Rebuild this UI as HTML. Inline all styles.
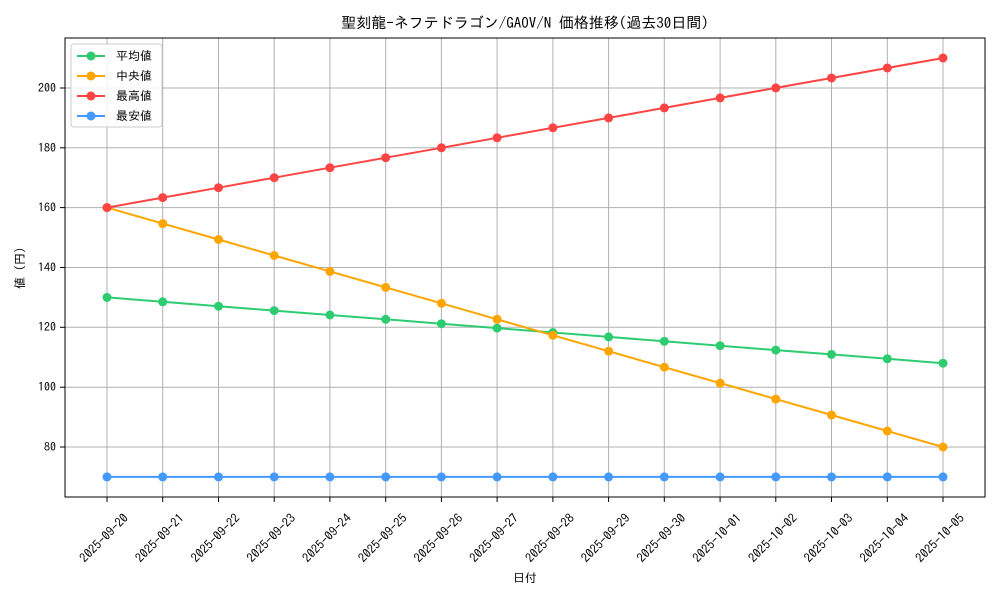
<!DOCTYPE html>
<html><head><meta charset="utf-8"><style>
html,body{margin:0;padding:0;background:#fff}
svg{display:block;font-family:"IPAGothic","Noto Sans CJK JP","Liberation Sans",sans-serif}
</style></head><body>
<svg width="1000" height="600" viewBox="0 0 1000 600" xmlns="http://www.w3.org/2000/svg">
<defs>
<marker id="mg" markerUnits="userSpaceOnUse" markerWidth="10" markerHeight="10" refX="5" refY="5"><circle cx="5" cy="5" r="4.5" fill="#2ecc71"/></marker>
<marker id="mo" markerUnits="userSpaceOnUse" markerWidth="10" markerHeight="10" refX="5" refY="5"><circle cx="5" cy="5" r="4.5" fill="#ffa500"/></marker>
<marker id="mr" markerUnits="userSpaceOnUse" markerWidth="10" markerHeight="10" refX="5" refY="5"><circle cx="5" cy="5" r="4.5" fill="#ff4444"/></marker>
<marker id="mb" markerUnits="userSpaceOnUse" markerWidth="10" markerHeight="10" refX="5" refY="5"><circle cx="5" cy="5" r="4.5" fill="#4499ff"/></marker>
</defs>
<text x="525" y="28" font-size="15" text-anchor="middle">聖刻龍-ネフテドラゴン/GAOV/N 価格推移(過去30日間)</text>
<g stroke="#b0b0b0" stroke-width="1">
<line x1="107" y1="38" x2="107" y2="497"/><line x1="162.7" y1="38" x2="162.7" y2="497"/><line x1="218.5" y1="38" x2="218.5" y2="497"/><line x1="274.2" y1="38" x2="274.2" y2="497"/><line x1="329.9" y1="38" x2="329.9" y2="497"/><line x1="385.7" y1="38" x2="385.7" y2="497"/><line x1="441.4" y1="38" x2="441.4" y2="497"/><line x1="497.1" y1="38" x2="497.1" y2="497"/><line x1="552.9" y1="38" x2="552.9" y2="497"/><line x1="608.6" y1="38" x2="608.6" y2="497"/><line x1="664.3" y1="38" x2="664.3" y2="497"/><line x1="720.1" y1="38" x2="720.1" y2="497"/><line x1="775.8" y1="38" x2="775.8" y2="497"/><line x1="831.5" y1="38" x2="831.5" y2="497"/><line x1="887.3" y1="38" x2="887.3" y2="497"/><line x1="943" y1="38" x2="943" y2="497"/>
<line x1="65" y1="447" x2="985" y2="447"/><line x1="65" y1="387.2" x2="985" y2="387.2"/><line x1="65" y1="327.3" x2="985" y2="327.3"/><line x1="65" y1="267.5" x2="985" y2="267.5"/><line x1="65" y1="207.6" x2="985" y2="207.6"/><line x1="65" y1="147.8" x2="985" y2="147.8"/><line x1="65" y1="88" x2="985" y2="88"/>
</g>
<rect x="65" y="38" width="920" height="459" fill="none" stroke="#000" stroke-width="1"/>
<g stroke="#000"><line x1="60" y1="447" x2="65" y2="447"/><line x1="60" y1="387.2" x2="65" y2="387.2"/><line x1="60" y1="327.3" x2="65" y2="327.3"/><line x1="60" y1="267.5" x2="65" y2="267.5"/><line x1="60" y1="207.6" x2="65" y2="207.6"/><line x1="60" y1="147.8" x2="65" y2="147.8"/><line x1="60" y1="88" x2="65" y2="88"/>
<line x1="107" y1="497" x2="107" y2="502"/><line x1="162.7" y1="497" x2="162.7" y2="502"/><line x1="218.5" y1="497" x2="218.5" y2="502"/><line x1="274.2" y1="497" x2="274.2" y2="502"/><line x1="329.9" y1="497" x2="329.9" y2="502"/><line x1="385.7" y1="497" x2="385.7" y2="502"/><line x1="441.4" y1="497" x2="441.4" y2="502"/><line x1="497.1" y1="497" x2="497.1" y2="502"/><line x1="552.9" y1="497" x2="552.9" y2="502"/><line x1="608.6" y1="497" x2="608.6" y2="502"/><line x1="664.3" y1="497" x2="664.3" y2="502"/><line x1="720.1" y1="497" x2="720.1" y2="502"/><line x1="775.8" y1="497" x2="775.8" y2="502"/><line x1="831.5" y1="497" x2="831.5" y2="502"/><line x1="887.3" y1="497" x2="887.3" y2="502"/><line x1="943" y1="497" x2="943" y2="502"/></g>
<g font-size="12" text-anchor="end"><text x="56" y="451">80</text><text x="56" y="391">100</text><text x="56" y="331">120</text><text x="56" y="271.5">140</text><text x="56" y="211.5">160</text><text x="56" y="152">180</text><text x="56" y="92">200</text></g>
<text transform="translate(24,268) rotate(-90)" font-size="12" text-anchor="middle">値 (円)</text>
<g font-size="12.5" text-anchor="middle">
<text transform="translate(107,541) rotate(-45)">2025-09-20</text><text transform="translate(162.7,541) rotate(-45)">2025-09-21</text><text transform="translate(218.5,541) rotate(-45)">2025-09-22</text><text transform="translate(274.2,541) rotate(-45)">2025-09-23</text><text transform="translate(329.9,541) rotate(-45)">2025-09-24</text><text transform="translate(385.7,541) rotate(-45)">2025-09-25</text><text transform="translate(441.4,541) rotate(-45)">2025-09-26</text><text transform="translate(497.1,541) rotate(-45)">2025-09-27</text><text transform="translate(552.9,541) rotate(-45)">2025-09-28</text><text transform="translate(608.6,541) rotate(-45)">2025-09-29</text><text transform="translate(664.3,541) rotate(-45)">2025-09-30</text><text transform="translate(720.1,541) rotate(-45)">2025-10-01</text><text transform="translate(775.8,541) rotate(-45)">2025-10-02</text><text transform="translate(831.5,541) rotate(-45)">2025-10-03</text><text transform="translate(887.3,541) rotate(-45)">2025-10-04</text><text transform="translate(943,541) rotate(-45)">2025-10-05</text>
</g>
<text x="525" y="582" font-size="12" text-anchor="middle">日付</text>
<g fill="none" stroke-width="2">
<polyline stroke="#2ecc71" marker-start="url(#mg)" marker-mid="url(#mg)" marker-end="url(#mg)" points="107,297.4 162.7,301.8 218.5,306.2 274.2,310.6 329.9,315 385.7,319.3 441.4,323.7 497.1,328.1 552.9,332.5 608.6,336.9 664.3,341.3 720.1,345.7 775.8,350.1 831.5,354.4 887.3,358.8 943,363.2"/>
<polyline stroke="#ffa500" marker-start="url(#mo)" marker-mid="url(#mo)" marker-end="url(#mo)" points="107,207.6 162.7,223.6 218.5,239.5 274.2,255.5 329.9,271.4 385.7,287.4 441.4,303.3 497.1,319.3 552.9,335.3 608.6,351.2 664.3,367.2 720.1,383.1 775.8,399.1 831.5,415 887.3,431 943,447"/>
<polyline stroke="#ff4444" marker-start="url(#mr)" marker-mid="url(#mr)" marker-end="url(#mr)" points="107,207.6 162.7,197.6 218.5,187.7 274.2,177.7 329.9,167.7 385.7,157.7 441.4,147.8 497.1,137.8 552.9,127.8 608.6,117.9 664.3,107.9 720.1,97.9 775.8,87.9 831.5,78 887.3,68 943,58"/>
<polyline stroke="#4499ff" marker-start="url(#mb)" marker-mid="url(#mb)" marker-end="url(#mb)" points="107,476.9 162.7,476.9 218.5,476.9 274.2,476.9 329.9,476.9 385.7,476.9 441.4,476.9 497.1,476.9 552.9,476.9 608.6,476.9 664.3,476.9 720.1,476.9 775.8,476.9 831.5,476.9 887.3,476.9 943,476.9"/>
</g>
<rect x="71" y="44" width="91" height="83" rx="3" fill="#fff" fill-opacity="0.85" stroke="#ccc"/>
<g stroke-width="2">
<line x1="77" y1="56" x2="105" y2="56" stroke="#2ecc71"/><circle cx="91" cy="56" r="4.5" fill="#2ecc71"/>
<line x1="77" y1="76" x2="105" y2="76" stroke="#ffa500"/><circle cx="91" cy="76" r="4.5" fill="#ffa500"/>
<line x1="77" y1="96" x2="105" y2="96" stroke="#ff4444"/><circle cx="91" cy="96" r="4.5" fill="#ff4444"/>
<line x1="77" y1="116" x2="105" y2="116" stroke="#4499ff"/><circle cx="91" cy="116" r="4.5" fill="#4499ff"/>
</g>
<g font-size="12"><text x="116" y="60">平均値</text><text x="116" y="80">中央値</text><text x="116" y="100">最高値</text><text x="116" y="120">最安値</text></g>
</svg>
</body></html>
